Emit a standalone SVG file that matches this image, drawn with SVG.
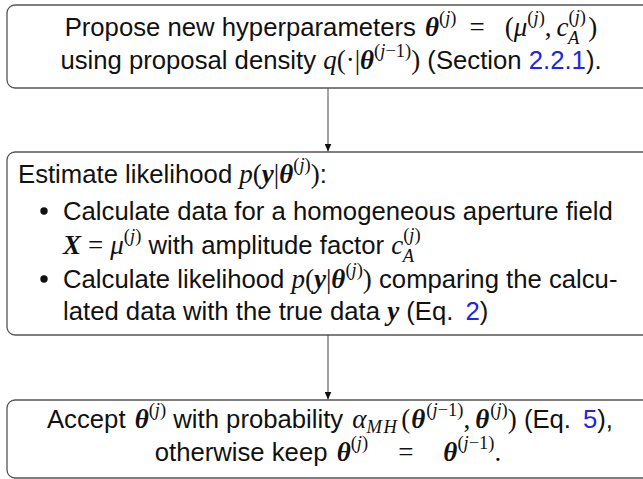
<svg xmlns="http://www.w3.org/2000/svg" width="643" height="479" viewBox="0 0 643 479">
<defs>
<style>
.box{fill:#fff;stroke:#555;stroke-width:1.3}
.con{stroke:#666;stroke-width:1.2;fill:none}
.tx{font-family:"Liberation Sans",Arial,sans-serif;font-size:25.7px;fill:#111}
.mi{font-family:"Liberation Serif","Times New Roman",serif;font-style:italic;font-weight:normal;font-size:27px}
.mr{font-family:"Liberation Serif","Times New Roman",serif;font-style:normal;font-weight:normal;font-size:27px}
.bi{font-family:"Liberation Serif","Times New Roman",serif;font-style:italic;font-weight:bold;font-size:27px}
.sc{font-size:18.5px}
.ref{fill:#2424e0}
.bul{fill:#111}
</style>
<marker id="ah" markerUnits="userSpaceOnUse" markerWidth="8" markerHeight="7" refX="8" refY="3.5" orient="auto" viewBox="0 0 8 7">
<path d="M0,0 L8,3.5 L0,7 Z" fill="#111"/>
</marker>
</defs>
<rect width="643" height="479" fill="#fff"/>
<g id="connectors">
<line class="con" x1="328" y1="88" x2="328" y2="151.5" marker-end="url(#ah)"/>
<line class="con" x1="328" y1="335" x2="328" y2="399.5" marker-end="url(#ah)"/>
</g>
<g id="node-propose">
<rect class="box" x="7" y="5" width="650" height="83" rx="8"/>
<text class="tx" x="331" y="36" text-anchor="middle">Propose new hyperparameters <tspan class="bi" dx="2">θ</tspan><tspan class="mr sc" dy="-12">(</tspan><tspan class="mi sc">j</tspan><tspan class="mr sc">)</tspan><tspan class="mr" dx="13" dy="12">=</tspan><tspan class="mr" dx="20">(</tspan><tspan class="mi">μ</tspan><tspan class="mr sc" dy="-12">(</tspan><tspan class="mi sc">j</tspan><tspan class="mr sc">)</tspan><tspan class="mr" dy="12">,</tspan><tspan class="mi" dx="5">c</tspan><tspan class="mr sc" dy="-13">(</tspan><tspan class="mi sc">j</tspan><tspan class="mr sc">)</tspan><tspan class="mi sc" dx="-18" dy="21">A</tspan><tspan class="mr" dx="9" dy="-8">)</tspan></text>
<text class="tx" x="331" y="69" text-anchor="middle">using proposal density <tspan class="mi">q</tspan><tspan class="mr">(·|</tspan><tspan class="bi">θ</tspan><tspan class="mr sc" dy="-12">(</tspan><tspan class="mi sc">j</tspan><tspan class="mr sc">−1)</tspan><tspan class="mr" dy="12">)</tspan> (Section <tspan class="ref">2.2.1</tspan>).</text>
</g>
<g id="node-likelihood">
<rect class="box" x="7" y="152" width="650" height="183" rx="8"/>
<text class="tx" x="18" y="183">Estimate likelihood <tspan class="mi">p</tspan><tspan class="mr">(</tspan><tspan class="bi">y</tspan><tspan class="mr">|</tspan><tspan class="bi">θ</tspan><tspan class="mr sc" dy="-12">(</tspan><tspan class="mi sc">j</tspan><tspan class="mr sc">)</tspan><tspan class="mr" dy="12">)</tspan>:</text>
<circle class="bul" cx="44" cy="211" r="3.7"/>
<text class="tx" x="63" y="220">Calculate data for a homogeneous aperture field</text>
<text class="tx" x="63" y="254"><tspan class="bi">X</tspan><tspan class="mr" dx="7">=</tspan><tspan class="mi" dx="7">μ</tspan><tspan class="mr sc" dy="-12">(</tspan><tspan class="mi sc">j</tspan><tspan class="mr sc">)</tspan><tspan dy="12"> with amplitude factor </tspan><tspan class="mi">c</tspan><tspan class="mr sc" dy="-13">(</tspan><tspan class="mi sc">j</tspan><tspan class="mr sc">)</tspan><tspan class="mi sc" dx="-18" dy="21">A</tspan></text>
<circle class="bul" cx="44" cy="279" r="3.7"/>
<text class="tx" x="63" y="288">Calculate likelihood <tspan class="mi">p</tspan><tspan class="mr">(</tspan><tspan class="bi">y</tspan><tspan class="mr">|</tspan><tspan class="bi">θ</tspan><tspan class="mr sc" dy="-12">(</tspan><tspan class="mi sc">j</tspan><tspan class="mr sc">)</tspan><tspan class="mr" dy="12">)</tspan> comparing the calcu-</text>
<text class="tx" x="63" y="320">lated data with the true data <tspan class="bi">y</tspan> (Eq.<tspan class="ref" dx="12">2</tspan>)</text>
</g>
<g id="node-accept">
<rect class="box" x="7" y="400" width="650" height="78" rx="8"/>
<text class="tx" x="330" y="428" text-anchor="middle">Accept <tspan class="bi" dx="2">θ</tspan><tspan class="mr sc" dy="-12">(</tspan><tspan class="mi sc">j</tspan><tspan class="mr sc">)</tspan><tspan dy="12"> with probability </tspan><tspan class="mi" dx="2">α</tspan><tspan class="mi sc" dy="5" letter-spacing="1.5">MH</tspan><tspan class="mr" dx="3" dy="-5">(</tspan><tspan class="bi" dx="1">θ</tspan><tspan class="mr sc" dy="-12" dx="1">(</tspan><tspan class="mi sc">j</tspan><tspan class="mr sc">−1)</tspan><tspan class="mr" dy="12">,</tspan><tspan class="bi" dx="5">θ</tspan><tspan class="mr sc" dy="-12" dx="1">(</tspan><tspan class="mi sc">j</tspan><tspan class="mr sc">)</tspan><tspan class="mr" dy="12">)</tspan> (Eq.<tspan class="ref" dx="12">5</tspan>),</text>
<text class="tx" x="328" y="461" text-anchor="middle">otherwise keep <tspan class="bi" dx="2">θ</tspan><tspan class="mr sc" dy="-12">(</tspan><tspan class="mi sc">j</tspan><tspan class="mr sc">)</tspan><tspan class="mr" dx="30" dy="12">=</tspan><tspan class="bi" dx="30">θ</tspan><tspan class="mr sc" dy="-12">(</tspan><tspan class="mi sc">j</tspan><tspan class="mr sc">−1)</tspan><tspan class="mr" dy="12">.</tspan></text>
</g>
</svg>
